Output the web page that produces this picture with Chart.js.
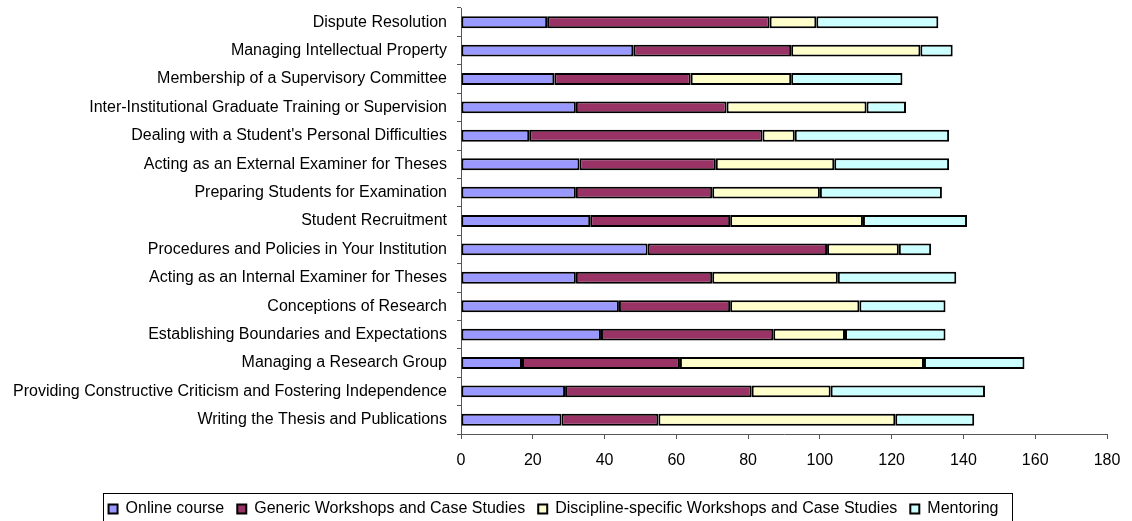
<!DOCTYPE html>
<html>
<head>
<meta charset="utf-8">
<script src="https://cdn.jsdelivr.net/npm/chart.js@4.4.1/dist/chart.umd.min.js"></script>
<style>
  html, body { margin: 0; padding: 0; background: #fff; }
  #wrap { width: 1132px; height: 521px; }
</style>
</head>
<body>
<div id="wrap"><canvas id="chart" width="1132" height="521"></canvas></div>
<script>
// categories, top to bottom as shown
var topics = [
    "Dispute Resolution",
    "Managing Intellectual Property",
    "Membership of a Supervisory Committee",
    "Inter-Institutional Graduate Training or Supervision",
    "Dealing with a Student's Personal Difficulties",
    "Acting as an External Examiner for Theses",
    "Preparing Students for Examination",
    "Student Recruitment",
    "Procedures and Policies in Your Institution",
    "Acting as an Internal Examiner for Theses",
    "Conceptions of Research",
    "Establishing Boundaries and Expectations",
    "Managing a Research Group",
    "Providing Constructive Criticism and Fostering Independence",
    "Writing the Thesis and Publications"
];

var seriesNames = [
    "Online course",
    "Generic Workshops and Case Studies",
    "Discipline-specific Workshops and Case Studies",
    "Mentoring"
];

var onlineCourse   = [24, 48, 26, 32, 19, 33, 32, 36, 52, 32, 44, 39, 17, 29, 28];
var genericWorkshops = [62, 44, 38, 42, 65, 38, 38, 39, 50, 38, 31, 48, 44, 52, 27];
var disciplineWorkshops = [13, 36, 28, 39, 9, 33, 30, 37, 20, 35, 36, 20, 68, 22, 66];
var mentoring      = [34, 9, 31, 11, 43, 32, 34, 29, 9, 33, 24, 28, 28, 43, 22];

var xTicks = [0, 20, 40, 60, 80, 100, 120, 140, 160, 180];

var colours = ["#9999FF", "#993366", "#FFFFCC", "#CCFFFF"];
var seriesValues = [onlineCourse, genericWorkshops, disciplineWorkshops, mentoring];

var FONT = "'Liberation Sans', Arial, Helvetica, sans-serif";

var datasets = [];
for (var i = 0; i < seriesNames.length; i++) {
    datasets.push({
        label: seriesNames[i],
        data: seriesValues[i],
        backgroundColor: colours[i],
        borderColor: "#000000",
        borderWidth: 2,
        borderSkipped: false,
        categoryPercentage: 1.0,
        barPercentage: 0.42
    });
}

// frame round the legend, like the original
var legendFrame = {
    id: "legendFrame",
    afterDraw: function (chart) {
        var lg = chart.legend;
        if (!lg || !lg.legendHitBoxes || !lg.legendHitBoxes.length) {
            return;
        }
        var boxes = lg.legendHitBoxes;
        var left = boxes[0].left - 6;
        var last = boxes[boxes.length - 1];
        var right = last.left + last.width + 13;
        var top = lg.top + 5;
        var ctx = chart.ctx;
        ctx.save();
        ctx.strokeStyle = "#000";
        ctx.lineWidth = 1;
        ctx.strokeRect(Math.round(left) + 0.5, Math.round(top) + 0.5, Math.round(right - left), 40);
        ctx.restore();
    }
};

var chart = new Chart(document.getElementById("chart"), {
    type: "bar",
    data: {
        labels: topics,
        datasets: datasets
    },
    plugins: [legendFrame],
    options: {
        indexAxis: "y",
        responsive: false,
        animation: false,
        layout: {
            padding: { left: 0, right: 25, top: 8, bottom: -6 }
        },
        scales: {
            x: {
                stacked: true,
                min: 0,
                max: 180,
                afterBuildTicks: function (scale) {
                    scale.ticks = xTicks.map(function (v) { return { value: v }; });
                },
                afterFit: function (scale) {
                    scale.height = 54;
                    scale.paddingLeft = 0;
                    scale.paddingRight = 0;
                },
                grid: {
                    drawOnChartArea: false,
                    drawTicks: true,
                    tickLength: 5,
                    color: "#555"
                },
                border: { display: true, color: "#555", width: 1 },
                ticks: {
                    color: "#000",
                    padding: 12,
                    font: { family: FONT, size: 16 }
                }
            },
            y: {
                stacked: true,
                afterFit: function (scale) {
                    scale.width = 461;
                    scale.paddingTop = 0;
                    scale.paddingBottom = 0;
                },
                grid: {
                    offset: true,
                    drawOnChartArea: false,
                    drawTicks: true,
                    tickLength: 4,
                    color: "#555"
                },
                border: { display: true, color: "#555", width: 1 },
                ticks: {
                    color: "#000",
                    padding: 10,
                    autoSkip: false,
                    font: { family: FONT, size: 16 }
                }
            }
        },
        plugins: {
            tooltip: { enabled: false },
            legend: {
                display: true,
                position: "bottom",
                labels: {
                    color: "#000",
                    boxWidth: 9,
                    boxHeight: 9,
                    padding: 13,
                    font: { family: FONT, size: 16 }
                }
            }
        }
    }
});
</script>
</body>
</html>
